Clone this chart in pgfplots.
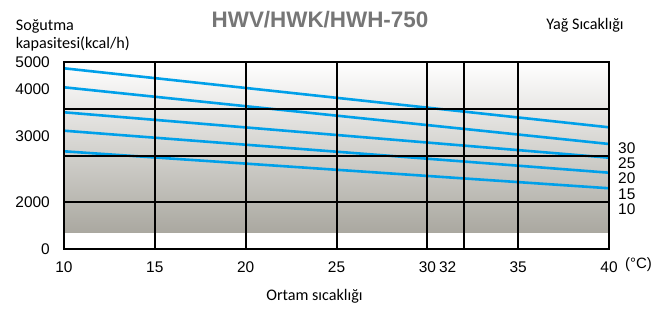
\documentclass[border=0pt]{standalone}
\usepackage{pgfplots}
\pgfplotsset{compat=1.18}
\usepackage{fontspec}
\setmainfont{Liberation Sans}
\newfontfamily\carlito{Carlito}
\definecolor{lineblue}{RGB}{0,160,233}
\definecolor{titlegray}{RGB}{118,118,118}
\definecolor{bgmid}{RGB}{226,226,223}
\definecolor{bgbot}{RGB}{170,168,160}
\begin{document}
\begin{tikzpicture}[x=1bp,y=1bp]
\useasboundingbox (-64,-60) rectangle (603,249);
\begin{axis}[
  at={(0,0)}, anchor=south west,
  scale only axis, width=545bp, height=187bp,
  xmin=10, xmax=40, ymin=0, ymax=5000,
  y coord trafo/.code={\pgfmathparse{(#1<=2000) ? (#1*0.02325) : ((#1<=3000) ? (46.5+(#1-2000)*0.0665) : ((#1<=4000) ? (113+(#1-3000)*0.0465) : (159.5+(#1-4000)*0.0275)))}},
  y coord inv trafo/.code={\pgfmathparse{(#1<=46.5) ? (#1/0.02325) : ((#1<=113) ? (2000+(#1-46.5)/0.0665) : ((#1<=159.5) ? (3000+(#1-113)/0.0465) : (4000+(#1-159.5)/0.0275)))}},
  xtick={10,15,20,25,30,35,40},
  extra x ticks={32}, extra x tick labels={32},
  extra x tick style={xticklabel style={xshift=-16bp}},
  ytick={0,2000,3000,4000,5000},
  yticklabels={0,2000,3000,4000,5000},
  extra y ticks={2000,2704,3581}, extra y tick labels={},
  extra y tick style={grid=major},
  xmajorgrids=true, ymajorgrids=false,
  major grid style={black, line width=2bp},
  major tick length=0pt,
  axis line style={black, line width=2bp},
  axis on top,
  /pgf/number format/assume math mode=true,
  ticklabel style={font=\fontsize{15.5}{18}\selectfont, inner sep=0pt},
  yticklabel shift=14bp, xticklabel shift=13bp,
]
\addplot[draw=none, top color=white, middle color=bgmid, bottom color=bgbot]
  coordinates {(10,701) (40,701) (40,5000) (10,5000)} -- cycle;
\addplot[lineblue, line width=2.6bp] coordinates {(10,4771) (40,3187)};
\addplot[lineblue, line width=2.6bp] coordinates {(10,4080) (40,2880)};
\addplot[lineblue, line width=2.6bp] coordinates {(10,3510) (40,2674)};
\addplot[lineblue, line width=2.6bp] coordinates {(10,3114) (40,2448)};
\addplot[lineblue, line width=2.6bp] coordinates {(10,2770) (40,2214)};
\end{axis}
\node[titlegray, font=\fontsize{22.5}{26}\selectfont\bfseries] at (256,229) {HWV/HWK/HWH-750};
\node[anchor=base west, inner sep=0pt, font=\carlito\fontsize{16.2}{19}\selectfont] at (-48.3,219) {Soğutma};
\node[anchor=base west, inner sep=0pt, font=\carlito\fontsize{16.2}{19}\selectfont] at (-48.3,200.3) {kapasitesi(kcal/h)};
\node[inner sep=0pt, font=\carlito\fontsize{16.2}{19}\selectfont] at (521,224) {Yağ Sıcaklığı};
\node[inner sep=0pt, font=\carlito\fontsize{16.2}{19}\selectfont] at (250.5,-47.7) {Ortam sıcaklığı};
\node[anchor=west, inner sep=0pt, font=\fontsize{15}{18}\selectfont] at (561,-16) {(°C)};
\foreach \lab/\yy in {30/100.7,25/85.7,20/70.7,15/55,10/40}
  \node[anchor=west, inner sep=0pt, font=\fontsize{15.5}{18}\selectfont] at (554,\yy) {\lab};
\end{tikzpicture}
\end{document}
